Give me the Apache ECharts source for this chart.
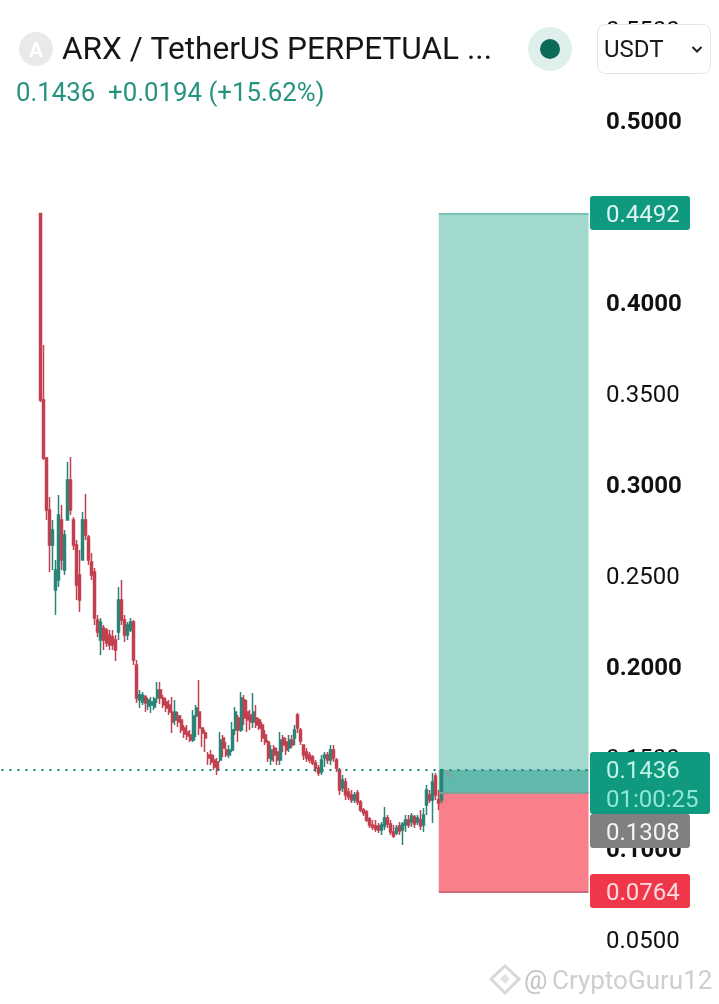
<!DOCTYPE html>
<html><head><meta charset="utf-8">
<style>html,body{margin:0;padding:0;background:#fff}#c{width:719px;height:1004px}</style>
<script src="https://cdn.jsdelivr.net/npm/echarts@6/dist/echarts.min.js"></script>
</head><body><div id="c"></div>
<script>
const opens = [.4492,.3467,.3148,.2863,.2670,.2423,.2478,.2808,.2533,.2808,.3027,.2808,.2670,.2505,.2588,.2808,.2714,.2577,.2522,.2258,
.2148,.2214,.2203,.2176,.2165,.2148,.2192,.2368,.2258,.2176,.2203,.2247,.2011,.1819,.1808,.1835,.1786,.1791,.1780,.1830,
.1874,.1830,.1808,.1791,.1753,.1709,.1731,.1709,.1665,.1643,.1626,.1599,.1731,.1753,.1665,.1637,.1516,.1516,.1489,.1478,
.1489,.1610,.1544,.1516,.1544,.1654,.1720,.1654,.1819,.1753,.1736,.1698,.1720,.1709,.1681,.1626,.1588,.1489,.1555,.1533,
.1489,.1610,.1588,.1555,.1599,.1610,.1736,.1654,.1571,.1533,.1516,.1505,.1473,.1445,.1423,.1500,.1516,.1489,.1544,.1489,
.1434,.1335,.1368,.1313,.1297,.1269,.1308,.1258,.1214,.1203,.1165,.1132,.1126,.1126,.1104,.1126,.1170,.1137,.1093,.1088,
.1126,.1104,.1132,.1159,.1148,.1176,.1148,.1159,.1132,.1242,.1297,.1269,.1401,.1269,.1269];
const closes = [.3467,.3148,.2863,.2670,.2753,.2533,.2835,.2588,.2725,.3027,.2863,.2670,.2451,.2368,.2808,.2725,.2588,.2505,.2269,.2192,
.2247,.2148,.2132,.2121,.2121,.2093,.2368,.2258,.2176,.2231,.2247,.2038,.1830,.1846,.1846,.1802,.1819,.1808,.1824,.1874,
.1830,.1791,.1775,.1753,.1698,.1753,.1698,.1654,.1632,.1621,.1599,.1731,.1775,.1665,.1637,.1610,.1500,.1478,.1451,.1434,
.1599,.1555,.1516,.1544,.1654,.1753,.1654,.1830,.1720,.1709,.1698,.1753,.1681,.1665,.1610,.1588,.1500,.1544,.1516,.1489,
.1599,.1571,.1544,.1599,.1571,.1654,.1665,.1593,.1516,.1500,.1489,.1473,.1445,.1418,.1489,.1516,.1489,.1544,.1500,.1445,
.1324,.1379,.1297,.1286,.1269,.1297,.1258,.1214,.1198,.1159,.1132,.1121,.1110,.1104,.1132,.1170,.1137,.1093,.1071,.1115,
.1099,.1137,.1159,.1132,.1181,.1137,.1170,.1126,.1187,.1324,.1269,.1368,.1297,.1253,.1436];
const lows = [.3456,.3137,.2808,.2522,.2533,.2286,.2440,.2533,.2505,.2808,.2835,.2643,.2368,.2302,.2588,.2698,.2560,.2478,.2231,.2165,
.2066,.2093,.2110,.2093,.2093,.2033,.2148,.2231,.2137,.2148,.2192,.2011,.1802,.1775,.1791,.1753,.1764,.1747,.1764,.1802,
.1797,.1775,.1753,.1736,.1637,.1681,.1670,.1637,.1610,.1599,.1588,.1588,.1615,.1626,.1560,.1533,.1462,.1462,.1434,.1407,
.1478,.1505,.1505,.1500,.1533,.1626,.1588,.1643,.1681,.1643,.1654,.1665,.1665,.1654,.1588,.1571,.1478,.1462,.1478,.1462,
.1462,.1533,.1516,.1533,.1555,.1571,.1637,.1571,.1489,.1478,.1473,.1462,.1423,.1401,.1407,.1451,.1467,.1462,.1478,.1423,
.1297,.1313,.1269,.1269,.1253,.1253,.1242,.1203,.1181,.1148,.1115,.1104,.1093,.1088,.1077,.1104,.1115,.1077,.1060,.1077,
.1077,.1022,.1093,.1115,.1121,.1115,.1132,.1104,.1093,.1187,.1253,.1143,.1269,.1214,.1253];
const highs = [.4492,.3769,.3154,.2934,.2808,.2588,.2945,.2890,.2753,.3126,.3154,.2824,.2698,.2643,.2852,.2951,.2725,.2626,.2544,.2286,
.2269,.2231,.2214,.2203,.2203,.2176,.2440,.2478,.2286,.2247,.2269,.2258,.2038,.1874,.1863,.1846,.1830,.1835,.1835,.1918,
.1918,.1846,.1830,.1819,.1835,.1819,.1753,.1736,.1681,.1681,.1654,.1764,.1791,.1929,.1665,.1654,.1533,.1544,.1516,.1500,
.1643,.1626,.1588,.1571,.1698,.1780,.1736,.1863,.1846,.1819,.1764,.1857,.1791,.1720,.1698,.1654,.1599,.1571,.1571,.1555,
.1643,.1626,.1610,.1626,.1626,.1681,.1747,.1665,.1571,.1555,.1533,.1516,.1489,.1462,.1516,.1533,.1533,.1571,.1571,.1500,
.1445,.1407,.1390,.1335,.1324,.1313,.1324,.1269,.1225,.1214,.1176,.1159,.1159,.1143,.1148,.1231,.1187,.1159,.1132,.1132,
.1148,.1148,.1187,.1187,.1198,.1187,.1187,.1214,.1225,.1352,.1324,.1418,.1418,.1324,.1440];
const leadingEmptyBars = 13;
const totalBars = 197;
const lastPrice = 0.1436, entry = 0.1308, stop = 0.0764, target = 0.4492;
const title = 'ARX / TetherUS PERPETUAL ...';
const quote = '0.1436  +0.0194 (+15.62%)';

const categories = Array.from({length: totalBars}, (_, i) => String(i));
const candles = [];
for (let i = 0; i < leadingEmptyBars; i++) candles.push('-');
opens.forEach((o, i) => candles.push([o, closes[i], lows[i], highs[i]]));

const TEAL = '#2a8578', RED = '#c2404f';
const zoneL = 146, zoneR = 196;
function hline(v, from, to, color, width, type) {
  return [{xAxis: from, yAxis: v, symbol: 'none', lineStyle: {color, width, type: type || 'solid'}},
          {xAxis: to, yAxis: v, symbol: 'none'}];
}
const font = 'Roboto';
function txt(x, y, text, size, fill, extra) {
  return {type: 'text', z: 110, left: x, top: y, style: Object.assign({text, fontFamily: font, fontSize: size, fill}, extra || {})};
}
function tag(x, y, w, h, fill) {
  return {type: 'rect', z: 105, shape: {x, y, width: w, height: h, r: 3}, style: {fill}};
}
const chart = echarts.init(document.getElementById('c'), null, {renderer: 'canvas'});
chart.setOption({
  animation: false,
  backgroundColor: '#fff',
  grid: {left: -1, width: 591, top: 30, height: 910},
  xAxis: {type: 'category', data: categories, show: false, boundaryGap: true},
  yAxis: {
    type: 'value', position: 'right', min: 0.05, max: 0.55, interval: 0.05,
    splitLine: {show: false}, axisLine: {show: false}, axisTick: {show: false},
    axisLabel: {
      show: true, margin: 16, fontFamily: font, fontSize: 24, color: '#111',
      padding: [4, 0, 0, 0],
      showMinLabel: true, showMaxLabel: true,
      formatter: v => {
        const s = v.toFixed(4);
        return Math.round(v * 100) % 10 === 0 ? '{b|' + s + '}' : s;
      },
      rich: {b: {fontFamily: font, fontSize: 24, fontWeight: 'bold', color: '#111'}}
    }
  },
  series: [{
    type: 'candlestick', data: candles, barWidth: 2.5,
    itemStyle: {color: TEAL, color0: RED, borderColor: TEAL, borderColor0: RED, borderWidth: 1.5},
    markArea: {
      silent: true,
      data: [
        [{xAxis: zoneL, yAxis: target, itemStyle: {color: '#a2d9ce'}}, {xAxis: zoneR, yAxis: lastPrice}],
        [{xAxis: zoneL, yAxis: lastPrice, itemStyle: {color: '#60b9aa'}}, {xAxis: zoneR, yAxis: entry}],
        [{xAxis: zoneL, yAxis: entry, itemStyle: {color: '#f97f8b'}}, {xAxis: zoneR, yAxis: stop}]
      ]
    },
    markLine: {
      silent: true, symbol: 'none', label: {show: false}, animation: false,
      data: [
        hline(target, zoneL, zoneR, '#78c2b4', 2),
        hline(entry, zoneL, zoneR, '#7f9f98', 2),
        hline(stop, zoneL, zoneR, '#cf6b76', 2),
        hline(lastPrice, 0, zoneR, '#0e8576', 2, [2, 6]),
        [{xAxis: 148, yAxis: 0.1429, symbol: 'none', lineStyle: {color: '#8f9f9b', width: 1.5, type: 'solid'}},
         {xAxis: 151, yAxis: 0.1390, symbol: 'none'}]
      ]
    }
  }],
  graphic: {elements: [
    {type: 'circle', z: 100, shape: {cx: 36, cy: 49, r: 17}, style: {fill: '#e9e9e9'}},
    txt(29, 41, 'A', 21, '#fff', {fontWeight: 'bold'}),
    txt(62, 35, title, 31.6, '#151515'),
    txt(16, 82, quote, 25.8, '#26937f'),
    {type: 'circle', z: 100, shape: {cx: 550, cy: 49, r: 22}, style: {fill: '#dff0ec'}},
    {type: 'circle', z: 101, shape: {cx: 550, cy: 49, r: 10}, style: {fill: '#0b6b58'}},
    {type: 'rect', z: 100, shape: {x: 597.5, y: 24.5, width: 113, height: 49, r: 8}, style: {fill: '#fff', stroke: '#e4e4e4', lineWidth: 1}},
    txt(604, 39, 'USDT', 24, '#1a1a1a'),
    {type: 'polyline', z: 101, shape: {points: [[692.5, 47], [697, 51.5], [701.5, 47]]}, style: {stroke: '#222', lineWidth: 2, fill: null}},
    tag(590, 196, 100, 34, '#0f9a80'),
    txt(606, 204, '0.4492', 24, '#dff5ef'),
    tag(590, 752, 120, 62, '#0f9a80'),
    txt(606, 760, '0.1436', 24, '#bff3e6'),
    txt(606, 789, '01:00:25', 24, '#8ee8d3'),
    tag(590, 814, 100, 34, '#808080'),
    txt(606, 822, '0.1308', 24, '#f4f4f4'),
    tag(590, 874, 100, 34, '#f0374a'),
    txt(606, 882, '0.0764', 24, '#fbdade'),
    {type: 'polygon', z: 100, shape: {points: [[505, 966], [519, 979], [505, 993], [491, 979]]}, style: {fill: 'none', stroke: '#d8d8d8', lineWidth: 3}},
    {type: 'polygon', z: 100, shape: {points: [[505, 974], [510, 979], [505, 984], [500, 979]]}, style: {fill: '#e2e2e2'}},
    txt(524, 969, '@', 26, '#c4c4c4'),
    txt(552, 969, 'CryptoGuru12', 26, '#cfcfcf')
  ]}
});
</script></body></html>
